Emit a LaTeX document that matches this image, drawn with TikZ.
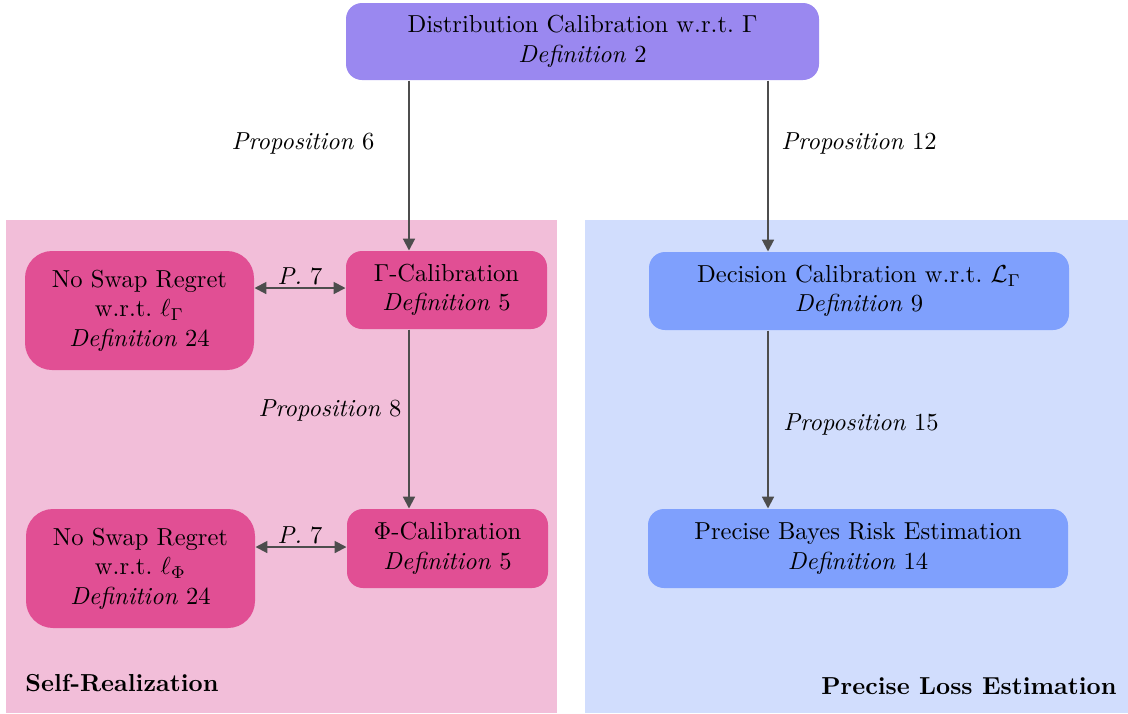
\documentclass[tikz,border=0pt]{standalone}
\usetikzlibrary{arrows.meta,calc}
\definecolor{topc}{HTML}{9A88F0}
\definecolor{pinkbox}{HTML}{E14F94}
\definecolor{bluebox}{HTML}{7FA0FD}
\definecolor{pinkbg}{HTML}{F2BED9}
\definecolor{bluebg}{HTML}{D1DDFD}
\definecolor{arrc}{HTML}{4D4D4D}
\begin{document}
\begin{tikzpicture}[x=0.407pt,y=-0.407pt,
  box/.style={rounded corners=6.5pt,inner sep=0pt,align=center,text=black},
  bigbox/.style={rounded corners=11pt,inner sep=0pt,align=center,text=black},
  arr/.style={draw=arrc,line width=0.8pt,-{Triangle[length=4.8pt,width=4.8pt]}},
  darr/.style={draw=arrc,line width=0.8pt,{Triangle[length=4.8pt,width=4.8pt]}-{Triangle[length=4.8pt,width=4.8pt]}},
  lab/.style={inner sep=0pt}]
\useasboundingbox (0,0) rectangle (1128,713);
% backgrounds
\fill[pinkbg] (6,220) rectangle (557,713);
\fill[bluebg] (585,220) rectangle (1128,713);
% nodes
\node[box,fill=topc,minimum width={473*0.407pt},minimum height={77*0.407pt}] (top) at (582.5,41.5)
  {Distribution Calibration w.r.t.\ $\Gamma$\\ \textit{Definition} 2};
\node[bigbox,fill=pinkbox,minimum width={229*0.407pt},minimum height={119*0.407pt}] (nsrG) at (139.5,310.5)
  {No Swap Regret\\ w.r.t.\ $\ell_\Gamma$\\ \textit{Definition} 24};
\node[box,fill=pinkbox,minimum width={201*0.407pt},minimum height={78*0.407pt}] (gcal) at (446.5,290)
  {$\Gamma$-Calibration\\ \textit{Definition} 5};
\node[box,fill=pinkbox,minimum width={201*0.407pt},minimum height={79*0.407pt}] (pcal) at (447.5,548.5)
  {$\Phi$-Calibration\\ \textit{Definition} 5};
\node[bigbox,fill=pinkbox,minimum width={229*0.407pt},minimum height={119*0.407pt}] (nsrP) at (140.5,568.5)
  {No Swap Regret\\ w.r.t.\ $\ell_\Phi$\\ \textit{Definition} 24};
\node[box,fill=bluebox,minimum width={420*0.407pt},minimum height={78*0.407pt}] (dcal) at (859,291)
  {Decision Calibration w.r.t.\ $\mathcal{L}_\Gamma$\\ \textit{Definition} 9};
\node[box,fill=bluebox,minimum width={420*0.407pt},minimum height={79*0.407pt}] (pbre) at (858,548.5)
  {Precise Bayes Risk Estimation\\ \textit{Definition} 14};
% connector columns
\coordinate (cl) at (409,0);
\coordinate (cr) at (768,0);
\draw[arr] (top.south -| cl) -- (gcal.north -| cl);
\draw[arr] (top.south -| cr) -- (dcal.north -| cr);
\draw[arr] (gcal.south -| cl) -- (pcal.north -| cl);
\draw[arr] (dcal.south -| cr) -- (pbre.north -| cr);
\draw[darr] (nsrG.east |- 0,288) -- (gcal.west |- 0,288);
\draw[darr] (nsrP.east |- 0,547) -- (pcal.west |- 0,547);
% labels
\node[lab,anchor=east] (l6) at (375,143) {\textit{Proposition} 6};
\node[lab,anchor=west] (l12) at (781,143) {\textit{Proposition} 12};
\node[lab,anchor=east] (l8) at (402,410) {\textit{Proposition} 8};
\node[lab,anchor=west] (l15) at (783,424) {\textit{Proposition} 15};
\node[lab] (p7a) at (300,276) {\textit{P.} 7};
\node[lab] (p7b) at (300,535) {\textit{P.} 7};
\node[lab,anchor=west] (sr) at (25,683) {\textbf{Self-Realization}};
\node[lab,anchor=east] (ple) at (1117,686) {\textbf{Precise Loss Estimation}};
\end{tikzpicture}
\end{document}
